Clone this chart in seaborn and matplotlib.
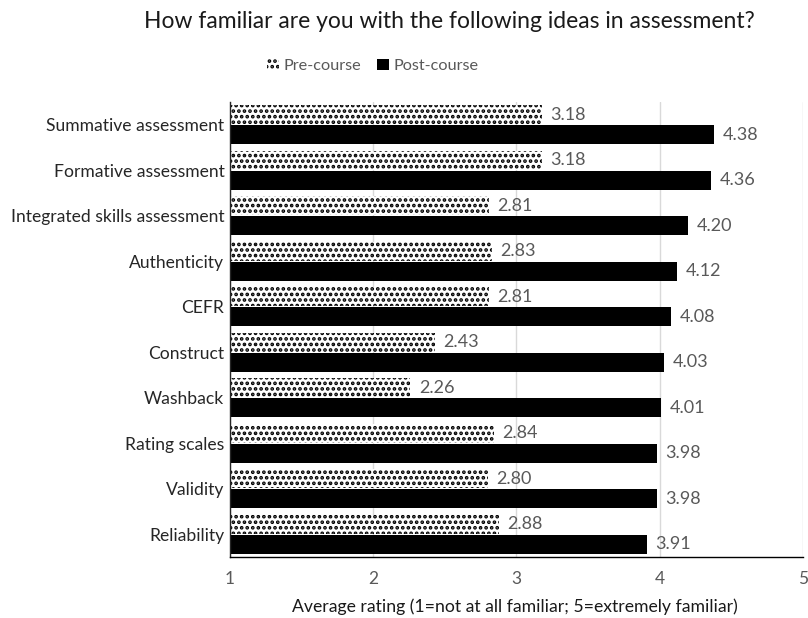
import matplotlib
matplotlib.use("Agg")
import matplotlib.pyplot as plt
import seaborn as sns
import pandas as pd

categories = ["Summative assessment", "Formative assessment", "Integrated skills assessment",
              "Authenticity", "CEFR", "Construct", "Washback", "Rating scales",
              "Validity", "Reliability"]
pre_course = [3.18, 3.18, 2.81, 2.83, 2.81, 2.43, 2.26, 2.84, 2.80, 2.88]
post_course = [4.38, 4.36, 4.20, 4.12, 4.08, 4.03, 4.01, 3.98, 3.98, 3.91]
series = ["Pre-course", "Post-course"]
x_ticks = [1, 2, 3, 4, 5]

title = "How familiar are you with the following ideas in assessment?"
xlabel = "Average rating (1=not at all familiar; 5=extremely familiar)"

df = pd.DataFrame({
    "category": categories * 2,
    "value": pre_course + post_course,
    "series": [series[0]] * len(categories) + [series[1]] * len(categories),
})

sns.set_theme(style="white")
plt.rcParams["font.family"] = ["Lato", "DejaVu Sans"]
plt.rcParams["hatch.color"] = "black"
plt.rcParams["hatch.linewidth"] = 1.8

fig = plt.figure(figsize=(8.08, 6.18), dpi=100)
ax = fig.add_axes([230 / 808, 1 - 557 / 618, 573 / 808, 455 / 618])

sns.barplot(data=df, y="category", x="value", hue="series", orient="h",
            palette={series[0]: "white", series[1]: "black"},
            width=0.88, gap=0.05, ax=ax, legend=False, linewidth=0)

pre_bars = ax.containers[0]
post_bars = ax.containers[1]
for b in pre_bars:
    b.set_hatch("...")
    b.set_edgecolor("black")
    b.set_linewidth(0)
for b in post_bars:
    b.set_edgecolor("black")

for cont in ax.containers:
    ax.bar_label(cont, fmt="%.2f", padding=6, color="#595959", fontsize=13)

ax.set_xlim(1, 5)
ax.set_xticks(x_ticks)
ax.set_xticklabels([str(t) for t in x_ticks])
ax.xaxis.grid(True, color="#d9d9d9", linewidth=1)
ax.set_axisbelow(True)
ax.set_ylabel("")
ax.set_xlabel("")
ax.tick_params(axis="x", colors="#595959", labelsize=12.5, length=0, pad=10)
ax.tick_params(axis="y", labelcolor="#262626", labelsize=12.6, length=0, pad=4)
for s in ["top", "right"]:
    ax.spines[s].set_visible(False)
ax.spines["left"].set_color("#262626")
ax.spines["left"].set_linewidth(1)
ax.spines["bottom"].set_color("black")
ax.spines["bottom"].set_linewidth(1)

fig.text(449 / 808, 1 - 22 / 618, title, ha="center", va="center",
         fontsize=16.5, color="#1a1a1a")
fig.text(515 / 808, 1 - 607 / 618, xlabel, ha="center", va="center",
         fontsize=12.7, color="#1a1a1a")

handles = [pre_bars[0], post_bars[0]]
fig.legend(handles, series, loc="center", bbox_to_anchor=(373 / 808, 1 - 66 / 618),
           ncol=2, frameon=False, handlelength=0.7, handleheight=0.7,
           handletextpad=0.3, columnspacing=1.0, labelcolor="#595959", fontsize=11.7)

fig.savefig("out.png", dpi=100)
